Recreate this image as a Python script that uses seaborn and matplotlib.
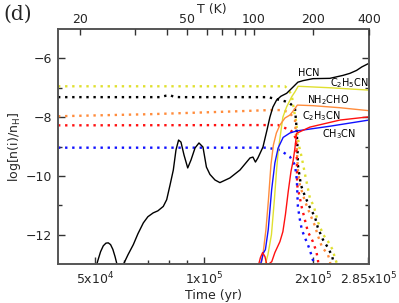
import numpy as np
import pandas as pd
import matplotlib
matplotlib.use("Agg")
import matplotlib.pyplot as plt
import seaborn as sns
from matplotlib.ticker import NullLocator, FixedLocator, NullFormatter

# ---------------- data (time in yr, log abundance) ----------------
hcn_t = [5.00e4, 5.03e4, 5.10e4, 5.18e4, 5.27e4, 5.36e4, 5.44e4, 5.52e4, 5.60e4, 5.68e4, 5.76e4,
         5.87e4, 5.97e4, 6.17e4, 6.38e4, 6.57e4, 6.80e4, 7.00e4, 7.24e4, 7.46e4, 7.72e4, 7.89e4,
         8.06e4, 8.23e4, 8.37e4, 8.51e4, 8.64e4, 8.81e4, 9.02e4, 9.21e4, 9.45e4, 9.69e4, 9.94e4,
         1.016e5, 1.039e5, 1.073e5, 1.107e5, 1.180e5, 1.258e5, 1.341e5, 1.366e5, 1.388e5, 1.410e5,
         1.456e5, 1.494e5, 1.522e5, 1.551e5, 1.588e5, 1.632e5, 1.693e5, 1.762e5, 1.819e5, 1.877e5,
         2.001e5, 2.229e5, 2.422e5, 2.532e5, 2.642e5, 2.733e5, 2.857e5]
hcn_gas = [-13.4, -13.1, -12.85, -12.58, -12.38, -12.29, -12.28, -12.34, -12.5, -12.75, -13.05,
           -13.5, -13.05, -12.68, -12.34, -11.97, -11.60, -11.39, -11.26, -11.19, -11.04, -10.81,
           -10.31, -9.80, -9.12, -8.78, -8.85, -9.29, -9.73, -9.46, -9.05, -8.88, -9.02,
           -9.70, -9.95, -10.14, -10.23, -10.07, -9.80, -9.39, -9.36, -9.53, -9.39,
           -9.02, -8.44, -8.00, -7.66, -7.42, -7.29, -7.19, -6.98, -6.81, -6.76,
           -6.69, -6.68, -6.58, -6.51, -6.41, -6.29, -6.17]

c2h5cn_t = [1.470e5, 1.503e5, 1.537e5, 1.566e5, 1.588e5, 1.606e5, 1.627e5, 1.653e5, 1.693e5,
            1.748e5, 1.785e5, 1.822e5, 2.229e5, 2.857e5]
c2h5cn_gas = [-13.12, -12.68, -12.0, -10.81, -9.80, -9.12, -8.61, -8.0, -7.65,
              -7.31, -7.14, -6.95, -7.0, -7.08]

nh2cho_t = [1.433e5, 1.456e5, 1.484e5, 1.508e5, 1.532e5, 1.556e5, 1.586e5, 1.622e5, 1.675e5,
            1.729e5, 1.773e5, 1.813e5, 2.001e5, 2.376e5, 2.857e5]
nh2cho_gas = [-13.12, -12.68, -11.83, -10.81, -9.63, -8.95, -8.54, -8.27, -8.03,
              -7.93, -7.76, -7.59, -7.61, -7.68, -7.78]

c2h3cn_t = [1.410e5, 1.433e5, 1.453e5, 1.475e5, 1.494e5, 1.540e5, 1.571e5, 1.622e5, 1.653e5,
            1.680e5, 1.710e5, 1.740e5, 1.766e5, 1.785e5, 1.804e5, 1.963e5, 2.376e5, 2.857e5]
c2h3cn_gas = [-13.12, -12.78, -12.61, -12.75, -13.05, -12.92, -12.61, -12.24, -11.90,
              -11.32, -10.54, -9.86, -9.46, -9.05, -8.55, -8.34, -8.10, -7.99]

ch3cn_t = [1.424e5, 1.444e5, 1.458e5, 1.479e5, 1.506e5, 1.539e5, 1.571e5, 1.604e5, 1.656e5,
           1.729e5, 1.804e5, 2.229e5, 2.857e5]
ch3cn_gas = [-13.12, -12.88, -12.64, -12.51, -11.83, -10.47, -9.56, -9.05, -8.69,
             -8.54, -8.47, -8.31, -8.10]

# ices (dotted)
hcn_ice_t = [3.95e4, 7.56e4, 7.86e4, 8.06e4, 8.26e4, 8.58e4, 1.503e5, 1.591e5, 1.675e5, 1.729e5,
             1.785e5, 1.801e5, 1.813e5, 1.819e5, 1.854e5, 1.901e5, 1.963e5, 2.026e5, 2.065e5,
             2.133e5, 2.201e5, 2.258e5, 2.287e5, 2.301e5]
hcn_ice = [-7.32, -7.32, -7.27, -7.25, -7.31, -7.32, -7.32, -7.39, -7.46, -7.53,
           -7.69, -8.27, -8.95, -9.63, -10.31, -10.68, -11.08, -11.39, -11.76,
           -12.17, -12.44, -12.71, -12.98, -13.12]

c2h5cn_ice_t = [3.95e4, 1.675e5, 1.718e5, 1.751e5, 1.773e5, 1.796e5, 1.830e5, 1.865e5, 1.907e5,
                1.963e5, 2.014e5, 2.070e5, 2.137e5, 2.206e5, 2.268e5, 2.301e5, 2.331e5, 2.346e5]
c2h5cn_ice = [-6.95, -6.95, -7.08, -7.29, -7.76, -8.10, -8.95, -9.39, -10.0,
              -10.75, -11.05, -11.59, -12.0, -12.24, -12.51, -12.78, -12.98, -13.12]

nh2cho_ice_t = [3.95e4, 7.10e4, 1.180e5, 1.522e5, 1.653e5, 1.729e5, 1.785e5, 1.807e5, 1.819e5,
                1.842e5, 1.901e5, 1.963e5, 2.026e5, 2.065e5, 2.119e5, 2.201e5, 2.229e5, 2.243e5]
nh2cho_ice = [-7.97, -7.90, -7.81, -7.76, -7.76, -7.86, -8.10, -9.12, -9.80,
              -10.31, -10.85, -11.29, -11.69, -12.03, -12.41, -12.68, -12.88, -13.12]

c2h3cn_ice_t = [3.95e4, 1.601e5, 1.653e5, 1.729e5, 1.773e5, 1.796e5, 1.807e5, 1.810e5, 1.842e5,
                1.865e5, 1.901e5, 1.938e5, 2.001e5, 2.046e5, 2.065e5, 2.079e5]
c2h3cn_ice = [-8.28, -8.27, -8.34, -8.44, -8.54, -8.78, -9.46, -10.31, -10.75,
              -11.08, -11.49, -11.90, -12.24, -12.58, -12.85, -13.12]

ch3cn_ice_t = [3.95e4, 1.491e5, 1.622e5, 1.729e5, 1.785e5, 1.807e5, 1.813e5, 1.819e5, 1.842e5,
               1.865e5, 1.901e5, 1.938e5, 1.963e5, 1.988e5, 2.007e5, 2.014e5]
ch3cn_ice = [-9.04, -9.04, -9.12, -9.35, -9.63, -10.14, -10.64, -11.05, -11.49,
             -11.83, -12.10, -12.34, -12.53, -12.75, -12.92, -13.12]

# species labels
label_text = ["HCN", "C$_2$H$_5$CN", "NH$_2$CHO", "C$_2$H$_3$CN", "CH$_3$CN"]
label_t = [1.945e5, 2.53e5, 2.208e5, 2.112e5, 2.36e5]
label_v = [-6.51, -6.85, -7.42, -7.97, -8.58]

# axes ticks
time_major = [5e4, 1e5, 2e5, 2.85e5]
time_major_labels = ["5x10$^4$", "1x10$^5$", "2x10$^5$", "2.85x10$^5$"]
time_minor = [6e4, 7e4, 8e4, 9e4]
temp_values = [20, 30, 40, 50, 60, 70, 80, 90, 100, 200, 400]
temp_times = [4.545e4, 6.45e4, 7.89e4, 8.96e4, 1.018e5, 1.121e5, 1.218e5, 1.298e5, 1.375e5, 2.0e5, 2.857e5]
temp_labeled = [20, 50, 100, 200, 400]

# ---------------- plot ----------------
sns.set_theme(style="ticks")
plt.rcParams["font.family"] = ["DejaVu Sans"]
plt.rcParams["mathtext.fontset"] = "dejavusans"

fig = plt.figure(figsize=(3.99, 3.03), dpi=100)
ax = fig.add_axes([58 / 399, 1 - 264 / 303, 311 / 399, 235 / 303])

cols = {"k": "#000000", "y": "#e0e030", "o": "#ff8c3c", "r": "#ff1010", "b": "#1010ff"}

ice_series = [(hcn_ice_t, hcn_ice, cols["k"]), (c2h5cn_ice_t, c2h5cn_ice, cols["y"]),
              (nh2cho_ice_t, nh2cho_ice, cols["o"]), (c2h3cn_ice_t, c2h3cn_ice, cols["r"]),
              (ch3cn_ice_t, ch3cn_ice, cols["b"])]
for t, v, c in ice_series:
    sns.lineplot(x=t, y=v, ax=ax, color=c, linestyle=(0, (1, 2.0)), linewidth=1.7,
                 sort=False, estimator=None)

gas_series = [(c2h5cn_t, c2h5cn_gas, cols["y"]), (nh2cho_t, nh2cho_gas, cols["o"]),
              (ch3cn_t, ch3cn_gas, cols["b"]), (c2h3cn_t, c2h3cn_gas, cols["r"]),
              (hcn_t, hcn_gas, cols["k"])]
for t, v, c in gas_series:
    sns.lineplot(x=t, y=v, ax=ax, color=c, linestyle="-", linewidth=1.0,
                 sort=False, estimator=None)

for s, t, v in zip(label_text, label_t, label_v):
    ax.text(t, v, s, fontsize=7, ha="center", va="center", color="black")

ax.set_xscale("log")
ax.set_xlim(3.95e4, 2.86e5)
ax.set_ylim(-13, -5)
ax.xaxis.set_major_locator(FixedLocator(time_major))
ax.set_xticklabels(time_major_labels)
ax.xaxis.set_minor_locator(FixedLocator(time_minor))
ax.xaxis.set_minor_formatter(NullFormatter())
ax.set_yticks([-12, -10, -8, -6])
ax.set_yticks([-11, -9, -7], minor=True)
ax.tick_params(which="both", direction="in", right=True, top=False, labelsize=9,
               color="#333333")
ax.tick_params(which="major", length=5, width=1.0)
ax.tick_params(which="minor", length=3, width=1.0)
ax.tick_params(axis="x", pad=5)
ax.tick_params(axis="y", pad=4)
for sp in ax.spines.values():
    sp.set_color("#555555")
    sp.set_linewidth(1.4)

ax.set_xlabel("Time (yr)", fontsize=9, labelpad=1)
ax.set_ylabel("log[n(i)/n$_{\\rm H}$]", fontsize=9, labelpad=2)

ax2 = ax.twiny()
ax2.set_xscale("log")
ax2.set_xlim(ax.get_xlim())
ax2.xaxis.set_major_locator(FixedLocator(temp_times))
ax2.xaxis.set_minor_locator(NullLocator())
ax2.set_xticklabels([str(v) if v in temp_labeled else "" for v in temp_values])
ax2.tick_params(direction="in", length=4, width=1.0, labelsize=9, pad=2, color="#333333")
for sp in ax2.spines.values():
    sp.set_visible(False)
fig.text(212 / 399, 1 - 9 / 303, "T (K)", fontsize=9, ha="center", va="center")

fig.text(3 / 399, 1 - 14 / 303, "(d)", fontsize=14.5, family="DejaVu Serif",
         ha="left", va="center")

fig.savefig("out.png", dpi=100)
